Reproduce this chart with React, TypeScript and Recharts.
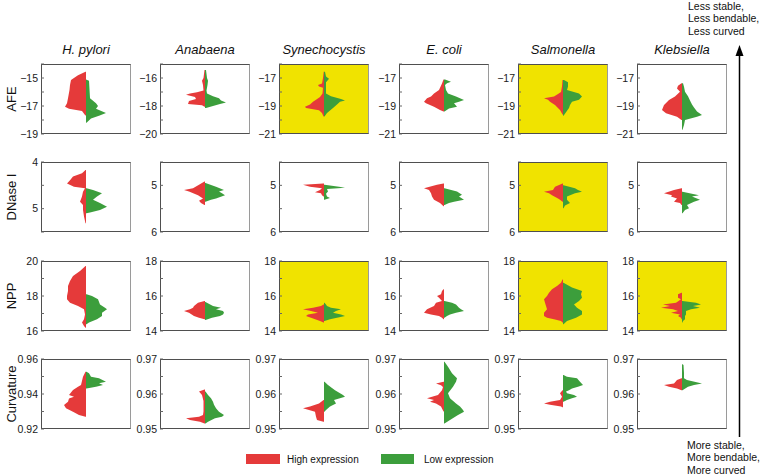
import React from 'react';
import { ComposedChart, Area, XAxis, YAxis } from 'recharts';

type Pt = [number, number]; // [value, density]

const species = ['H. pylori', 'Anabaena', 'Synechocystis', 'E. coli', 'Salmonella', 'Klebsiella'];
const measures = ['AFE', 'DNase I', 'NPP', 'Curvature'];
const invertedMeasures = ['DNase I'];

// columns drawn on a yellow background, per row
const highlighted: number[][] = [[2, 4], [4], [2, 4, 5], []];

// y ranges per species
const afeRange: Pt[] = [[-19, -14], [-20, -15], [-21, -16], [-21, -16], [-21, -16], [-21, -16]];
const dnaseRange: Pt[] = [[4, 5.5], [4.5, 6], [4.5, 6], [4.5, 6], [4.5, 6], [4.5, 6]];
const nppRange: Pt[] = [[16, 20], [14, 18], [14, 18], [14, 18], [14, 18], [14, 18]];
const curvRange: Pt[] = [[0.92, 0.96], [0.95, 0.97], [0.95, 0.97], [0.95, 0.97], [0.95, 0.97], [0.95, 0.97]];

const afeTicks = [
  [-19, -18, -17, -16, -15, -14],
  [-20, -19, -18, -17, -16, -15],
  [-21, -20, -19, -18, -17, -16],
  [-21, -20, -19, -18, -17, -16],
  [-21, -20, -19, -18, -17, -16],
  [-21, -20, -19, -18, -17, -16],
];
const afeLabels = [[-19, -17, -15], [-20, -18, -16], [-21, -19, -17], [-21, -19, -17], [-21, -19, -17], [-21, -19, -17]];
const dnaseTicks = [[4, 4.5, 5, 5.5], [4.5, 5, 5.5, 6], [4.5, 5, 5.5, 6], [4.5, 5, 5.5, 6], [4.5, 5, 5.5, 6], [4.5, 5, 5.5, 6]];
const dnaseLabels = [[4, 5], [5, 6], [5, 6], [5, 6], [5, 6], [5, 6]];
const nppTicks = [
  [16, 17, 18, 19, 20],
  [14, 15, 16, 17, 18],
  [14, 15, 16, 17, 18],
  [14, 15, 16, 17, 18],
  [14, 15, 16, 17, 18],
  [14, 15, 16, 17, 18],
];
const nppLabels = [[16, 18, 20], [14, 16, 18], [14, 16, 18], [14, 16, 18], [14, 16, 18], [14, 16, 18]];
const curvTicks = [
  [0.92, 0.93, 0.94, 0.95, 0.96],
  [0.95, 0.955, 0.96, 0.965, 0.97],
  [0.95, 0.955, 0.96, 0.965, 0.97],
  [0.95, 0.955, 0.96, 0.965, 0.97],
  [0.95, 0.955, 0.96, 0.965, 0.97],
  [0.95, 0.955, 0.96, 0.965, 0.97],
];
const curvLabels = [[0.92, 0.94, 0.96], [0.95, 0.96, 0.97], [0.95, 0.96, 0.97], [0.95, 0.96, 0.97], [0.95, 0.96, 0.97], [0.95, 0.96, 0.97]];

// densities (high expression drawn to the left, low expression to the right)
const afeHigh: Pt[][] = [
  [[-14.55, 0.5], [-14.8, 8], [-15.14, 15], [-15.5, 16], [-15.86, 16.5], [-16.45, 18], [-16.8, 19], [-17.05, 21], [-17.2, 17], [-17.35, 4], [-17.64, 1], [-17.7, 0]],
  [[-15.43, 0.5], [-16.0, 1.5], [-16.2, 3], [-16.5, 2], [-16.9, 1.5], [-17.02, 8], [-17.1, 15], [-17.2, 19], [-17.35, 10], [-17.5, 9], [-17.65, 16], [-17.85, 17], [-17.95, 3], [-18.05, 0.5]],
  [[-16.55, 0.3], [-17.0, 1], [-17.4, 2], [-17.5, 6], [-17.6, 5], [-17.7, 1], [-18.1, 1.5], [-18.35, 4], [-18.55, 8], [-18.7, 11], [-18.9, 14], [-19.05, 19], [-19.15, 18], [-19.3, 5], [-19.5, 2], [-19.75, 0.5]],
  [[-17.1, 0.5], [-17.4, 2], [-17.86, 5], [-18.1, 10], [-18.33, 13], [-18.45, 17], [-18.69, 20], [-18.81, 18], [-19.05, 10], [-19.29, 4], [-19.4, 0.5]],
  [[-17.14, 0.5], [-17.6, 1], [-18.0, 2], [-18.15, 5], [-18.33, 9], [-18.45, 19], [-18.55, 15], [-18.69, 13], [-18.93, 8], [-19.29, 3], [-19.6, 0.5]],
  [[-17.38, 0.5], [-17.55, 4], [-17.75, 5], [-17.98, 2], [-18.33, 7], [-18.57, 13], [-18.93, 18], [-19.29, 20], [-19.52, 16], [-19.76, 5], [-20.0, 0.5]],
];
const afeLow: Pt[][] = [
  [[-15.1, 0], [-15.2, 3], [-15.8, 3.5], [-16.45, 4], [-16.8, 10], [-17.0, 12], [-17.2, 10], [-17.5, 20], [-17.7, 13], [-17.9, 5], [-18.2, 0.5]],
  [[-15.43, 1], [-16.0, 2], [-16.2, 3], [-16.5, 2.5], [-16.9, 1.5], [-17.1, 2], [-17.3, 8], [-17.45, 14], [-17.6, 16], [-17.75, 21], [-17.85, 15], [-18.0, 8], [-18.15, 1]],
  [[-16.55, 1], [-16.9, 2], [-17.05, 5], [-17.15, 4], [-17.3, 2], [-18.1, 2], [-18.3, 7], [-18.5, 17], [-18.6, 21], [-18.7, 16], [-18.9, 13], [-19.15, 9], [-19.5, 3], [-19.75, 0.5]],
  [[-17.1, 1], [-17.26, 7], [-17.38, 3], [-17.5, 1], [-17.86, 2], [-18.1, 4], [-18.33, 12], [-18.57, 20], [-18.69, 15], [-18.81, 10], [-19.05, 13], [-19.17, 5], [-19.4, 0.5]],
  [[-17.14, 1], [-17.3, 5], [-17.6, 5], [-17.86, 4], [-18.1, 16], [-18.33, 19], [-18.55, 16], [-18.69, 9], [-18.93, 7], [-19.15, 6], [-19.45, 3], [-19.7, 0.5]],
  [[-17.38, 1], [-17.62, 2], [-17.98, 3], [-18.3, 6], [-18.6, 8], [-18.9, 10], [-19.1, 12], [-19.4, 15], [-19.64, 20], [-19.76, 15], [-20.0, 3], [-20.36, 2], [-20.7, 0.5]],
];

const dnaseHigh: Pt[][] = [
  [[4.17, 0.5], [4.24, 4], [4.31, 13], [4.39, 16], [4.46, 19], [4.53, 12], [4.56, 1], [4.64, 3], [4.74, 4], [4.85, 6], [4.92, 3], [5.03, 3], [5.17, 2], [5.31, 0.5]],
  [[4.92, 0.5], [4.99, 6], [5.06, 12], [5.1, 21], [5.13, 16], [5.21, 7], [5.28, 2], [5.33, 6], [5.38, 4], [5.42, 0.5]],
  [[4.96, 0.5], [4.99, 21], [5.03, 14], [5.06, 2], [5.1, 4], [5.15, 9], [5.17, 3], [5.21, 2], [5.24, 0.5]],
  [[4.96, 0.5], [4.99, 7], [5.06, 20], [5.1, 15], [5.17, 13], [5.24, 12], [5.31, 10], [5.38, 4], [5.45, 0.5]],
  [[4.96, 0.5], [5.03, 8], [5.1, 10], [5.14, 19], [5.17, 14], [5.21, 11], [5.28, 5], [5.31, 3], [5.35, 0.5]],
  [[5.06, 0.5], [5.1, 8], [5.17, 18], [5.21, 10], [5.24, 11], [5.28, 5], [5.35, 8], [5.38, 2], [5.42, 0.5]],
];
const dnaseLow: Pt[][] = [
  [[4.56, 0.5], [4.6, 7], [4.67, 16], [4.74, 11], [4.81, 7], [4.88, 14], [4.96, 21], [5.03, 14], [5.08, 4], [5.1, 0.5]],
  [[4.95, 0.5], [5.03, 11], [5.1, 19], [5.13, 14], [5.17, 17], [5.21, 20], [5.28, 11], [5.31, 6], [5.35, 0.5]],
  [[4.99, 0.5], [5.03, 15], [5.05, 21], [5.08, 3], [5.13, 4], [5.18, 2], [5.24, 3], [5.27, 6], [5.31, 0.5]],
  [[5.06, 0.5], [5.13, 13], [5.2, 18], [5.24, 15], [5.31, 20], [5.35, 10], [5.38, 5], [5.42, 0.5]],
  [[5.0, 0.5], [5.06, 12], [5.1, 15], [5.14, 19], [5.17, 12], [5.24, 4], [5.31, 4], [5.38, 7], [5.43, 2], [5.49, 0.5]],
  [[5.14, 0.5], [5.21, 17], [5.24, 10], [5.31, 18], [5.35, 12], [5.42, 5], [5.49, 7], [5.53, 3], [5.6, 0.5]],
];

const nppHigh: Pt[][] = [
  [[19.71, 0.5], [19.43, 6], [19.14, 13], [18.86, 16], [18.57, 18], [18.29, 18], [18.0, 19], [17.81, 19], [17.62, 16], [17.43, 8], [17.24, 2], [16.95, 1], [16.67, 2], [16.48, 4], [16.29, 2], [16.19, 0.5]],
  [[15.71, 0.5], [15.62, 7], [15.43, 11], [15.33, 12], [15.24, 15], [15.14, 21], [15.05, 16], [14.86, 11], [14.76, 6], [14.67, 0.5]],
  [[15.52, 0.5], [15.43, 3], [15.33, 11], [15.24, 21], [15.14, 13], [15.05, 6], [14.95, 16], [14.86, 18], [14.76, 13], [14.57, 4], [14.48, 0.5]],
  [[16.38, 0.5], [16.29, 2], [16.1, 3], [16.0, 7], [15.9, 5], [15.71, 2], [15.62, 8], [15.43, 10], [15.24, 17], [15.05, 20], [14.95, 13], [14.86, 5], [14.76, 2], [14.67, 0.5]],
  [[16.95, 0.5], [16.76, 2], [16.57, 6], [16.38, 11], [16.19, 14], [16.0, 16], [15.81, 19], [15.62, 18], [15.43, 17], [15.24, 16], [15.05, 19], [14.86, 19], [14.76, 16], [14.67, 9], [14.57, 2], [14.48, 0.5]],
  [[16.19, 0.5], [16.1, 4], [15.9, 4], [15.81, 1], [15.62, 6], [15.52, 19], [15.43, 12], [15.33, 21], [15.24, 9], [15.14, 4], [15.05, 11], [14.95, 2], [14.86, 4], [14.76, 1], [14.67, 0.5]],
];
const nppLow: Pt[][] = [
  [[18.1, 0.5], [18.0, 6], [17.81, 12], [17.52, 14], [17.33, 19], [17.24, 21], [17.05, 16], [16.86, 16], [16.67, 11], [16.48, 3], [16.38, 0.5]],
  [[15.66, 0.5], [15.43, 8], [15.33, 16], [15.24, 11], [15.14, 18], [15.05, 19], [14.95, 18], [14.86, 15], [14.76, 7], [14.63, 0.5]],
  [[15.62, 0.5], [15.52, 2], [15.43, 3], [15.33, 7], [15.24, 17], [15.14, 12], [15.05, 9], [14.95, 17], [14.86, 21], [14.76, 13], [14.67, 6], [14.57, 0.5]],
  [[15.71, 0.5], [15.62, 8], [15.52, 12], [15.33, 15], [15.24, 17], [15.14, 20], [15.05, 12], [14.95, 6], [14.86, 3], [14.76, 0.5]],
  [[16.76, 0.5], [16.48, 9], [16.29, 19], [16.1, 18], [15.9, 19], [15.71, 16], [15.52, 11], [15.33, 14], [15.14, 19], [14.95, 19], [14.76, 13], [14.57, 4], [14.38, 0.5]],
  [[15.71, 0.5], [15.62, 14], [15.52, 19], [15.43, 11], [15.33, 18], [15.24, 9], [15.14, 4], [14.95, 4], [14.86, 3], [14.67, 3], [14.57, 1], [14.48, 0.5]],
];

const curvHigh: Pt[][] = [
  [[0.9527, 0.5], [0.9499, 3], [0.9451, 5], [0.9442, 8], [0.9423, 13], [0.9394, 17], [0.9385, 12], [0.9375, 17], [0.9356, 18], [0.9337, 22], [0.9318, 20], [0.9299, 13], [0.928, 7], [0.927, 0.5]],
  [[0.9613, 0.5], [0.9607, 6], [0.9597, 3], [0.958, 1.5], [0.955, 1.5], [0.954, 2], [0.9535, 6], [0.9531, 19], [0.9526, 15], [0.9521, 5], [0.9516, 0.5]],
  [[0.9583, 0.5], [0.9573, 5], [0.9564, 14], [0.9559, 21], [0.9554, 15], [0.9549, 9], [0.9535, 8], [0.9526, 7], [0.9521, 0.5]],
  [[0.9635, 0.5], [0.963, 8], [0.9625, 3], [0.962, 1], [0.9611, 2], [0.9597, 6], [0.9592, 12], [0.9588, 17], [0.9583, 10], [0.9578, 14], [0.9573, 8], [0.9564, 3], [0.955, 0.5]],
  [[0.9611, 0.5], [0.9602, 3], [0.9592, 1], [0.9583, 3], [0.9578, 13], [0.9573, 19], [0.9569, 13], [0.9564, 2], [0.9562, 0.5]],
  [[0.9645, 0.5], [0.964, 5], [0.963, 8], [0.9626, 18], [0.9621, 13], [0.9616, 5], [0.9611, 0.5]],
];
const curvLow: Pt[][] = [
  [[0.9527, 0.5], [0.9518, 3], [0.9499, 5], [0.949, 13], [0.947, 20], [0.9461, 13], [0.9451, 17], [0.9442, 10], [0.9432, 0.5]],
  [[0.9607, 0.5], [0.9597, 3], [0.9588, 6], [0.9578, 8], [0.9569, 9], [0.9559, 11], [0.9549, 14], [0.954, 19], [0.9535, 17], [0.9531, 10], [0.9521, 3], [0.9516, 0.5]],
  [[0.9635, 0.5], [0.9626, 4], [0.9611, 11], [0.9597, 19], [0.9592, 21], [0.9583, 10], [0.9573, 12], [0.9564, 6], [0.9554, 2], [0.9549, 0.5]],
  [[0.9692, 0.5], [0.9678, 4], [0.9659, 8], [0.9645, 13], [0.9635, 12], [0.9621, 9], [0.9602, 4], [0.9588, 6], [0.9573, 12], [0.9564, 16], [0.9554, 19], [0.9549, 20], [0.954, 14], [0.9526, 6], [0.9516, 0.5]],
  [[0.9654, 0.5], [0.9649, 4], [0.9645, 14], [0.9635, 17], [0.9626, 20], [0.9621, 15], [0.9616, 9], [0.9611, 6], [0.9607, 3], [0.9602, 4], [0.9597, 11], [0.9592, 14], [0.9588, 9], [0.9583, 4], [0.9578, 0.5]],
  [[0.9685, 0.5], [0.9683, 1.5], [0.966, 2], [0.9645, 2], [0.964, 5], [0.963, 20], [0.9626, 12], [0.9621, 6], [0.9611, 0.5]],
];

const rows = [
  { ranges: afeRange, ticks: afeTicks, labels: afeLabels, high: afeHigh, low: afeLow },
  { ranges: dnaseRange, ticks: dnaseTicks, labels: dnaseLabels, high: dnaseHigh, low: dnaseLow },
  { ranges: nppRange, ticks: nppTicks, labels: nppLabels, high: nppHigh, low: nppLow },
  { ranges: curvRange, ticks: curvTicks, labels: curvLabels, high: curvHigh, low: curvLow },
];

const FONT = '"Liberation Sans", Arial, Helvetica, sans-serif';
const RED = '#E53A3A';
const GREEN = '#3C9E3C';
const YELLOW = '#F0E300';

const BOX_W = 90;
const BOX_H = 70;
const AXIS_W = 32;
const PAD = 8;
const colLeft = (c: number) => Math.round(41 + c * 119.2);
const rowTop = (r: number) => Math.round(64 + r * 98.3);

const fmtTick = (v: number) => (v < 0 ? '\u2212' + Math.abs(v) : String(v));

interface PanelProps {
  left: number;
  top: number;
  range: Pt;
  ticks: number[];
  labels: number[];
  inverted: boolean;
  high: Pt[];
  low: Pt[];
  yellow: boolean;
}

const Panel: React.FC<PanelProps> = ({ left, top, range, ticks, labels, inverted, high, low, yellow }) => {
  const highData = high.map(([y, w]) => ({ y, w: -w }));
  const lowData = low.map(([y, w]) => ({ y, w }));
  const isLabel = (v: number) => labels.some((l) => Math.abs(l - v) < 1e-9);
  const w = AXIS_W + BOX_W + PAD;
  const h = BOX_H + 2 * PAD;
  // in a vertical layout recharts puts the smallest value on top, so flip for normal rows
  const reversed = !inverted;
  return (
    <div style={{ position: 'absolute', left: left - AXIS_W, top: top - PAD, width: w, height: h }}>
      <div
        style={{
          position: 'absolute',
          left: AXIS_W,
          top: PAD,
          width: BOX_W,
          height: BOX_H,
          boxSizing: 'border-box',
          background: yellow ? YELLOW : '#fff',
          border: '1px solid #4f4f4f',
          borderRightColor: '#9a9a9a',
        }}
      />
      <div style={{ position: 'absolute', left: 0, top: 0 }}>
        <ComposedChart width={w} height={h} layout="vertical" margin={{ top: PAD, right: PAD, bottom: PAD, left: 0 }}>
          <XAxis type="number" domain={[-45, 45]} ticks={[0]} height={0} tick={false} axisLine={false} tickSize={-3} stroke="#666" allowDataOverflow />
          <XAxis xAxisId="top" orientation="top" type="number" domain={[-45, 45]} ticks={[0]} height={0} tick={false} axisLine={false} tickSize={-3} stroke="#666" allowDataOverflow />
          <YAxis
            type="number"
            dataKey="y"
            domain={range}
            ticks={ticks}
            interval={0}
            reversed={reversed}
            width={AXIS_W}
            axisLine={false}
            tickSize={-3}
            tickMargin={6}
            stroke="#666"
            tickFormatter={(v: number) => (isLabel(v) ? fmtTick(v) : '')}
            tick={{ fontSize: 10.5, fill: '#1a1a1a', fontFamily: FONT }}
            allowDataOverflow
          />
          <YAxis
            yAxisId="right"
            orientation="right"
            type="number"
            domain={range}
            ticks={ticks}
            interval={0}
            reversed={reversed}
            width={0}
            axisLine={false}
            tick={false}
            tickSize={-3}
            stroke="#666"
            allowDataOverflow
          />
          <Area data={highData} dataKey="w" type="linear" stroke="none" fill={RED} fillOpacity={1} dot={false} activeDot={false} isAnimationActive={false} />
          <Area data={lowData} dataKey="w" type="linear" stroke="none" fill={GREEN} fillOpacity={1} dot={false} activeDot={false} isAnimationActive={false} />
        </ComposedChart>
      </div>
    </div>
  );
};

export default function App() {
  return (
    <div style={{ position: 'absolute', left: 0, top: 0, width: 760, height: 476, background: '#fff', overflow: 'hidden', fontFamily: FONT }}>
      <svg width={760} height={476} style={{ position: 'absolute', left: 0, top: 0 }} fontFamily={FONT}>
        {species.map((s, c) => (
          <text key={s} x={colLeft(c) + BOX_W / 2} y={54} textAnchor="middle" fontSize={13} fontStyle="italic" fill="#111">
            {s}
          </text>
        ))}
        {measures.map((m, r) => (
          <text key={m} transform={`translate(16, ${rowTop(r) + BOX_H / 2}) rotate(-90)`} textAnchor="middle" fontSize={13} fill="#111">
            {m}
          </text>
        ))}
        <line x1={739.5} y1={52} x2={739.5} y2={437} stroke="#000" strokeWidth={1.5} />
        <polygon points="739.5,45 735.5,56 743.5,56" fill="#000" />
        <g fontSize={10.5} fill="#111">
          <text x={688} y={9.5}>Less stable,</text>
          <text x={688} y={22}>Less bendable,</text>
          <text x={688} y={34.5}>Less curved</text>
          <text x={687} y={448.5}>More stable,</text>
          <text x={687} y={461}>More bendable,</text>
          <text x={687} y={473.5}>More curved</text>
        </g>
        <rect x={246} y={454} width={34} height={10} fill={RED} />
        <text x={287} y={462.5} fontSize={10} fill="#111">High expression</text>
        <rect x={381} y={454} width={33} height={10} fill={GREEN} />
        <text x={424} y={462.5} fontSize={10} fill="#111">Low expression</text>
      </svg>
      {rows.map((row, r) =>
        species.map((s, c) => (
          <Panel
            key={`${r}-${c}`}
            left={colLeft(c)}
            top={rowTop(r)}
            range={row.ranges[c]}
            ticks={row.ticks[c]}
            labels={row.labels[c]}
            inverted={invertedMeasures.includes(measures[r])}
            high={row.high[c]}
            low={row.low[c]}
            yellow={highlighted[r].includes(c)}
          />
        ))
      )}
    </div>
  );
}
